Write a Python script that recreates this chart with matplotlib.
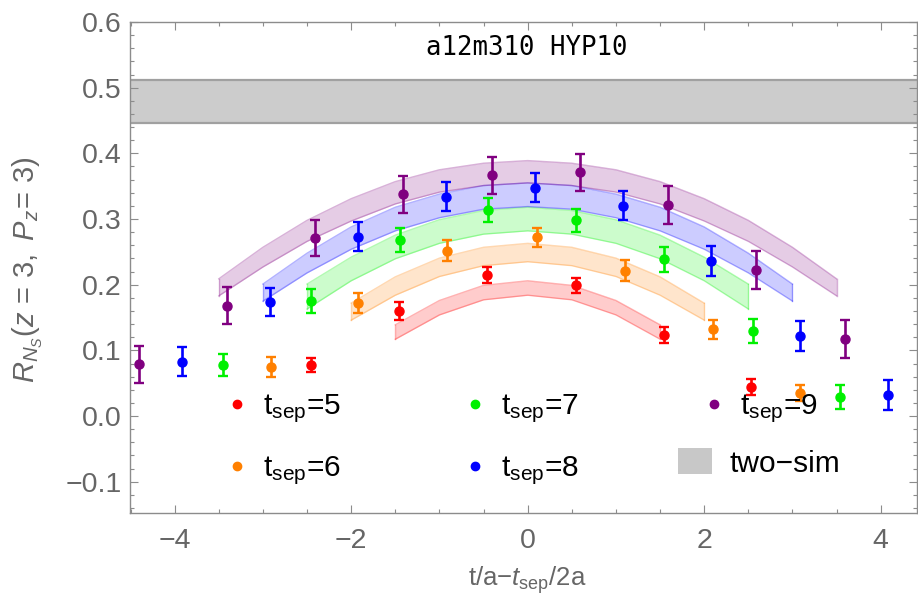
import matplotlib
matplotlib.use('Agg')
import matplotlib.pyplot as plt
from matplotlib.lines import Line2D
from matplotlib.patches import Patch
from matplotlib.ticker import MultipleLocator

plt.rcParams['font.family'] = ['Liberation Sans', 'DejaVu Sans']
plt.rcParams['mathtext.fontset'] = 'custom'
plt.rcParams['mathtext.rm'] = 'Liberation Sans'
plt.rcParams['mathtext.it'] = 'Liberation Sans:italic'
plt.rcParams['mathtext.bf'] = 'Liberation Sans:bold'

# ---------------- data ----------------
tseps = [5, 6, 7, 8, 9]
colors = ['#ff0000', '#ff8000', '#00f000', '#0000ff', '#800080']

x5 = [-2.46, -1.46, -0.46, 0.55, 1.54, 2.53]
y5 = [0.078, 0.160, 0.2146, 0.199, 0.124, 0.0437]
e5 = [0.011, 0.013, 0.012, 0.011, 0.012, 0.012]

x6 = [-2.91, -1.92, -0.91, 0.10, 1.10, 2.10, 3.09]
y6 = [0.075, 0.1725, 0.2516, 0.272, 0.221, 0.132, 0.0355]
e6 = [0.015, 0.015, 0.016, 0.015, 0.016, 0.015, 0.012]

x7 = [-3.45, -2.45, -1.45, -0.45, 0.55, 1.55, 2.55, 3.54]
y7 = [0.0776, 0.175, 0.268, 0.3135, 0.298, 0.2385, 0.130, 0.029]
e7 = [0.017, 0.018, 0.018, 0.018, 0.018, 0.019, 0.018, 0.018]

x8 = [-3.92, -2.92, -1.92, -0.92, 0.08, 1.08, 2.08, 3.08, 4.08]
y8 = [0.0827, 0.174, 0.273, 0.334, 0.348, 0.320, 0.2364, 0.1218, 0.032]
e8 = [0.022, 0.021, 0.022, 0.022, 0.022, 0.022, 0.023, 0.023, 0.023]

x9 = [-4.40, -3.41, -2.41, -1.41, -0.41, 0.59, 1.59, 2.59, 3.59]
y9 = [0.079, 0.168, 0.271, 0.3375, 0.3668, 0.371, 0.322, 0.222, 0.118]
e9 = [0.028, 0.028, 0.028, 0.028, 0.028, 0.028, 0.029, 0.029, 0.029]

# fit bands (centre and half width read at half-integer positions)
bx5 = [-1.5, -1.0, -0.5, 0.0, 0.5, 1.0, 1.5]
bc5 = [0.128, 0.165, 0.188, 0.195, 0.188, 0.165, 0.128]
bh5 = [0.011, 0.011, 0.011, 0.011, 0.011, 0.011, 0.011]

bx6 = [-2.0, -1.5, -1.0, -0.5, 0.0, 0.5, 1.0, 1.5, 2.0]
bc6 = [0.159, 0.198, 0.2265, 0.243, 0.249, 0.243, 0.2265, 0.198, 0.159]
bh6 = [0.013, 0.014, 0.014, 0.014, 0.014, 0.014, 0.014, 0.014, 0.013]

bx7 = [-2.5, -2.0, -1.5, -1.0, -0.5, 0.0, 0.5, 1.0, 1.5, 2.0, 2.5]
bc7 = [0.182, 0.224, 0.2575, 0.281, 0.295, 0.300, 0.295, 0.281, 0.2575, 0.224, 0.182]
bh7 = [0.019, 0.018, 0.018, 0.018, 0.018, 0.018, 0.018, 0.018, 0.018, 0.018, 0.019]

bx8 = [-3.0, -2.5, -2.0, -1.5, -1.0, -0.5, 0.0, 0.5, 1.0, 1.5, 2.0, 2.5, 3.0]
bc8 = [0.188, 0.233, 0.271, 0.300, 0.320, 0.333, 0.337, 0.333, 0.320, 0.300, 0.271, 0.233, 0.188]
bh8 = [0.013, 0.015, 0.017, 0.018, 0.018, 0.018, 0.018, 0.018, 0.018, 0.018, 0.017, 0.015, 0.013]

bx9 = [-3.5, -3.0, -2.5, -2.0, -1.5, -1.0, -0.5, 0.0, 0.5, 1.0, 1.5, 2.0, 2.5, 3.0, 3.5]
bc9 = [0.196, 0.242, 0.282, 0.314, 0.340, 0.358, 0.368, 0.372, 0.368, 0.358, 0.340, 0.314, 0.282, 0.242, 0.196]
bh9 = [0.013, 0.015, 0.016, 0.017, 0.017, 0.017, 0.017, 0.017, 0.017, 0.017, 0.017, 0.017, 0.016, 0.015, 0.013]

twosim_lo, twosim_hi = 0.446, 0.511

title = 'a12m310 HYP10'
xticks = [-4, -2, 0, 2, 4]
yticks = [-0.1, 0.0, 0.1, 0.2, 0.3, 0.4, 0.5, 0.6]

points = [(x5, y5, e5), (x6, y6, e6), (x7, y7, e7), (x8, y8, e8), (x9, y9, e9)]
bands = [(bx5, bc5, bh5), (bx6, bc6, bh6), (bx7, bc7, bh7), (bx8, bc8, bh8), (bx9, bc9, bh9)]

# ---------------- figure ----------------
W, H = 918, 604
fig = plt.figure(figsize=(W / 100, H / 100), dpi=100)
ax = fig.add_axes([130 / W, 91 / H, 787 / W, 491 / H])
ax.set_xlim(-4.506, 4.411)
ax.set_ylim(-0.1476, 0.5997)

# two-sim band
ax.axhspan(twosim_lo, twosim_hi, facecolor='#cccccc', edgecolor='none', zorder=1)
ax.axhline(twosim_lo, color='#a0a0a0', lw=1.6, zorder=1.1)
ax.axhline(twosim_hi, color='#a0a0a0', lw=1.6, zorder=1.1)

# fit bands
for (bx, bc, bh), col in zip(bands, colors):
    lo = [c - h for c, h in zip(bc, bh)]
    hi = [c + h for c, h in zip(bc, bh)]
    ax.fill_between(bx, lo, hi, color=col, alpha=0.2, lw=0, zorder=2)
    ax.plot(bx, lo, color=col, alpha=0.3, lw=1.0, zorder=2.1)
    ax.plot(bx, hi, color=col, alpha=0.3, lw=1.0, zorder=2.1)
    ax.plot([bx[0], bx[0]], [lo[0], hi[0]], color=col, alpha=0.3, lw=1.0, zorder=2.1)
    ax.plot([bx[-1], bx[-1]], [lo[-1], hi[-1]], color=col, alpha=0.3, lw=1.0, zorder=2.1)

# data points
for (x, y, e), col in zip(points, colors):
    ax.errorbar(x, y, yerr=e, fmt='o', color=col, ms=6.5, elinewidth=1.9,
                capsize=3.6, capthick=1.7, zorder=3)

# axes styling
gray = '#8c8c8c'
for s in ax.spines.values():
    s.set_color(gray)
    s.set_linewidth(1.0)
ax.set_xticks(xticks)
ax.set_yticks(yticks)
ax.set_yticklabels(['\u22120.1', '0.0', '0.1', '0.2', '0.3', '0.4', '0.5', '0.6'])
ax.set_xticklabels(['\u22124', '\u22122', '0', '2', '4'])
ax.xaxis.set_minor_locator(MultipleLocator(0.5))
ax.yaxis.set_minor_locator(MultipleLocator(0.02))
ax.tick_params(which='both', direction='in', top=True, right=True, color=gray,
               labelcolor='#666666', labelsize=20.5, width=0.8)
ax.tick_params(which='major', length=6)
ax.tick_params(which='minor', length=3.2)
ax.tick_params(axis='x', pad=11)
ax.tick_params(axis='y', pad=6)

ax.set_ylabel(r'$R_{N_S}(z\,=\,3,\ P_z\!=\,3)$', color='#666666', fontsize=21)
ax.yaxis.set_label_coords(-0.108, 0.495)
ax.set_xlabel(r't/a$-t_{\mathregular{sep}}$/2a', color='#666666', fontsize=18.5)
ax.xaxis.set_label_coords(0.5045, -0.105)

ax.text(0.5045, 0.947, title, transform=ax.transAxes, ha='center', va='center',
        family='DejaVu Sans Mono', fontsize=18.5, color='black', zorder=5)

# legends
LF = 21.5
handles = [Line2D([], [], ls='none', marker='o', ms=6, color=c) for c in colors]
labels = [r'$\mathregular{t_{sep}}$=%d' % t for t in tseps]
leg1 = ax.legend(handles, labels, ncol=3, frameon=False, fontsize=LF,
                 loc='center left', bbox_to_anchor=(221.7 / W, 1 - 440 / H),
                 bbox_transform=fig.transFigure, borderpad=0, borderaxespad=0,
                 handlelength=1.0, handletextpad=0.38, columnspacing=4.0,
                 labelspacing=0.98)
leg1.set_zorder(6)
ax.add_artist(leg1)
leg2 = ax.legend([Patch(facecolor='#c8c8c8', edgecolor='none')], ['two\u2212sim'],
                 frameon=False, fontsize=LF, loc='center left',
                 bbox_to_anchor=(678 / W, 1 - 463 / H), bbox_transform=fig.transFigure,
                 borderpad=0, borderaxespad=0, handlelength=1.14, handleheight=0.94,
                 handletextpad=0.6)
leg2.set_zorder(6)

fig.savefig('out.png', dpi=100)
